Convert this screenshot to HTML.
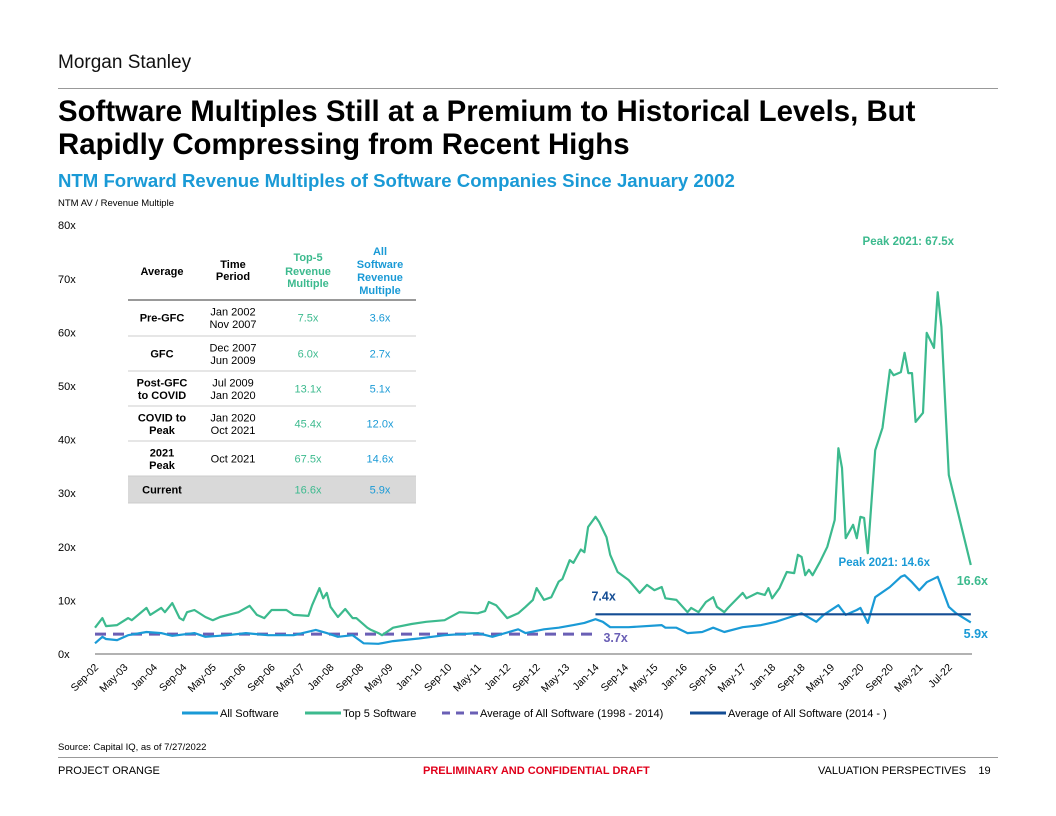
<!DOCTYPE html>
<html><head><meta charset="utf-8"><style>
body{margin:0;width:1056px;height:816px;background:#fff;font-family:"Liberation Sans",Arial,sans-serif;position:relative;overflow:hidden}
.a{position:absolute}
</style></head><body>
<div class="a" style="left:58px;top:52px;font-size:19px;color:#111">Morgan Stanley</div>
<div class="a" style="left:58px;top:88px;width:940px;height:1px;background:#999"></div>
<div class="a" style="left:58px;top:95px;font-size:29.4px;font-weight:bold;line-height:33px;color:#000">Software Multiples Still at a Premium to Historical Levels, But<br>Rapidly Compressing from Recent Highs</div>
<div class="a" style="left:58px;top:170px;font-size:18.6px;font-weight:bold;color:#1a9ad6">NTM Forward Revenue Multiples of Software Companies Since January 2002</div>
<div class="a" style="left:58px;top:198px;font-size:9.5px">NTM AV / Revenue Multiple</div>
<svg class="a" id="chart" style="left:0;top:0" width="1056" height="816"></svg>
<div class="a" style="left:58px;top:742px;font-size:9.5px">Source: Capital IQ, as of 7/27/2022</div>
<div class="a" style="left:58px;top:757px;width:940px;height:1px;background:#999"></div>
<div class="a" style="left:58px;top:765px;font-size:11px">PROJECT ORANGE</div>
<div class="a" style="left:423px;top:765px;font-size:11px;font-weight:bold;color:#e0001b">PRELIMINARY AND CONFIDENTIAL DRAFT</div>
<div class="a" style="left:818px;top:765px;font-size:11px">VALUATION PERSPECTIVES&nbsp;&nbsp;&nbsp;&nbsp;19</div>
<script>
const yTicks=[0,10,20,30,40,50,60,70,80];
const xLabels=["Sep-02","May-03","Jan-04","Sep-04","May-05","Jan-06","Sep-06","May-07","Jan-08","Sep-08","May-09","Jan-10","Sep-10","May-11","Jan-12","Sep-12","May-13","Jan-14","Sep-14","May-15","Jan-16","Sep-16","May-17","Jan-18","Sep-18","May-19","Jan-20","Sep-20","May-21","Jul-22"];
const topMonths=[0,2,3,6,9,10,14,15,18,19,21,23,24,25,27,30,32,34,39,42,44,46,48,52,54,58,59,61,62,63,64,66,68,70,71,74,75,77,78,81,86,90,95,99,104,106,107,109,112,115,117,119,120,122,124,126,127,129,130,132,133,134,136,137,139,140,142,145,148,150,152,154,155,158,161,162,164,166,168,169,171,172,176,177,180,182,183,184,186,188,190,191,192,193,194,195,197,199,201,202,203,204,206,207,208,209,210,212,214,216,217,219,220,221,222,223,225,226,228,229,230,232,238];
const topValues=[4.9,6.7,5.2,5.4,6.7,6.3,8.6,7.3,8.6,7.8,9.5,6.7,6.3,7.8,8.2,6.9,6.3,6.9,7.8,9.0,7.3,6.7,8.2,8.2,7.3,7.1,9.1,12.3,10.4,11.4,8.8,6.9,8.4,6.7,6.7,4.9,4.5,3.9,3.5,4.9,5.6,6.0,6.3,7.8,7.6,8.0,9.7,9.1,6.7,7.6,8.8,10.1,12.3,10.1,10.6,13.5,14,17.5,17,19.5,19,23.7,25.6,24.6,21.8,18.5,15.3,13.8,11.4,12.9,11.9,12.5,10.4,10.1,7.8,8.6,7.8,9.7,10.6,8.8,7.8,8.6,11.4,10.4,11.4,11,12.3,10.4,12.3,15.3,15.1,18.5,18.1,14.7,15.7,14.7,17.2,20,25,38.4,34.7,21.6,24.1,21.6,25.6,25.4,18.8,38,42.2,53,52,52.6,56.2,52.4,52.4,43.3,45,59.9,57.1,67.5,61,33.4,16.6];
const allMonths=[0,2,3,6,9,14,18,21,27,30,36,41,47,54,60,63,66,70,73,77,81,88,95,104,108,115,117,122,126,130,133,136,138,140,145,154,155,158,161,165,168,171,176,181,185,189,192,196,198,202,204,207,208,210,212,216,219,220,222,224,226,229,232,234,238];
const allValues=[2.0,3.2,2.8,2.6,3.5,4.1,3.9,3.4,3.9,3.2,3.5,3.9,3.5,3.5,4.5,3.9,3.2,3.5,2.0,1.9,2.4,2.9,3.5,3.9,3.2,4.6,3.9,4.6,4.9,5.4,5.8,6.5,6.0,5.0,5.0,5.4,4.9,4.9,3.9,4.1,4.9,4.1,5.0,5.4,6.0,6.9,7.6,6.0,7.3,9.1,7.3,8.2,8.6,5.8,10.6,12.5,14.4,14.7,13.4,11.9,13.4,14.4,8.8,7.6,5.9];
const avgOld=3.7, avgNew=7.4, splitMonth=136, lastMonth=238;
const svg=document.getElementById('chart'),NS='http://www.w3.org/2000/svg';
const X=m=>95+m*3.68, Y=v=>654-v*5.36;
function mk(t,a,txt){const e=document.createElementNS(NS,t);for(const k in a)e.setAttribute(k,a[k]);if(txt!=null)e.textContent=txt;svg.appendChild(e);return e;}
yTicks.forEach(v=>{const t=mk('text',{x:58,y:Y(v)+4,'font-size':11});t.textContent=v+'x';

});
const ax=mk('line',{x1:95,x2:972,y1:Y(0),y2:Y(0),stroke:'#999','stroke-width':1.5});


xLabels.forEach((l,i)=>{const m=i*8;const t=mk('text',{x:X(m)+4,y:Y(0)+14,'font-size':10.5,'text-anchor':'end',transform:`rotate(-45 ${X(m)+4} ${Y(0)+14})`});t.textContent=l;

});
function line(ms,vs,col,name){const d=ms.map((m,i)=>(i?'L':'M')+X(m).toFixed(1)+' '+Y(vs[i]).toFixed(1)).join('');const p=mk('path',{d:d,fill:'none',stroke:col,'stroke-width':2.2,'stroke-linejoin':'round'});

}
const d1=mk('line',{x1:X(0),x2:X(splitMonth),y1:Y(avgOld),y2:Y(avgOld),stroke:'#6a5fb5','stroke-width':3,'stroke-dasharray':'11 7'});


line(allMonths,allValues,'#1a9ad6','all-software-line');
line(topMonths,topValues,'#3cba8e','top5-software-line');
const d2=mk('line',{x1:X(splitMonth),x2:X(lastMonth),y1:Y(avgNew),y2:Y(avgNew),stroke:'#144d94','stroke-width':2.2});


[[X(splitMonth)-4,Y(avgNew)-14,'#144d94',avgNew.toFixed(1)+'x','start',12.5],[X(splitMonth)+8,Y(avgOld)+8,'#6a5fb5',avgOld.toFixed(1)+'x','start',12.5],
[954,245,'#3cba8e','Peak 2021: 67.5x','end',11.5],[930,566,'#1a9ad6','Peak 2021: 14.6x','end',11.5],
[988,585,'#3cba8e',topValues[topValues.length-1]+'x','end',12.5],[988,638,'#1a9ad6',allValues[allValues.length-1]+'x','end',12.5]].forEach(a=>{
const t=mk('text',{x:a[0],y:a[1],fill:a[2],'font-size':a[5],'font-weight':'bold','text-anchor':a[4]});t.textContent=a[3];

});
const leg=[[182,'#1a9ad6','All Software',null],[305,'#3cba8e','Top 5 Software',null],[442,'#6a5fb5','Average of All Software (1998 - 2014)','8 6'],[690,'#144d94','Average of All Software (2014 - )',null]];
leg.forEach(l=>{const ln=mk('line',{x1:l[0],x2:l[0]+36,y1:713,y2:713,stroke:l[1],'stroke-width':3});if(l[3])ln.setAttribute('stroke-dasharray',l[3]);


const t=mk('text',{x:l[0]+38,y:717,'font-size':11});t.textContent=l[2];

});
const T=(x,y,s,o)=>{const t=mk('text',Object.assign({x:x,y:y,'font-size':11,'text-anchor':'middle'},o||{}));t.textContent=s;return t;};
[['Average',162,275],['Time',233,268],['Period',233,280]].forEach(h=>{const t=T(h[1],h[2],h[0],{'font-weight':'bold'});});
[['Top-5',261],['Revenue',275],['Multiple',287]].forEach(h=>{const t=T(308,h[1],h[0],{'font-weight':'bold',fill:'#3cba8e'});});
[['All',255],['Software',268],['Revenue',281],['Multiple',294]].forEach(h=>{const t=T(380,h[1],h[0],{'font-weight':'bold',fill:'#1a9ad6'});});
const bg=mk('rect',{x:128,y:476,width:288,height:27,fill:'#d9d9d9'});


const rows=[[['Pre-GFC'],['Jan 2002','Nov 2007'],'7.5x','3.6x'],[['GFC'],['Dec 2007','Jun 2009'],'6.0x','2.7x'],[['Post-GFC','to COVID'],['Jul 2009','Jan 2020'],'13.1x','5.1x'],[['COVID to','Peak'],['Jan 2020','Oct 2021'],'45.4x','12.0x'],[['2021','Peak'],['Oct 2021'],'67.5x','14.6x'],[['Current'],[''],'16.6x','5.9x']];
const tops=[300,336,371,406,441,476];
tops.forEach((y,i)=>{const ln=mk('line',{x1:128,x2:416,y1:y,y2:y,stroke:i?'#ccc':'#999','stroke-width':i?1:2});
const r=rows[i],h=i==5?27:35,c=y+h/2+4;
const put=(arr,x,o)=>arr.forEach((s,k)=>{const t=T(x,c+(k-(arr.length-1)/2)*12.5,s,o);});
put(r[0],162,{'font-weight':'bold'});put(r[1],233);put([r[2]],308,{fill:'#3cba8e'});put([r[3]],380,{fill:'#1a9ad6'});});
const lb=mk('line',{x1:128,x2:416,y1:503,y2:503,stroke:'#ccc'});
</script>
</body></html>
